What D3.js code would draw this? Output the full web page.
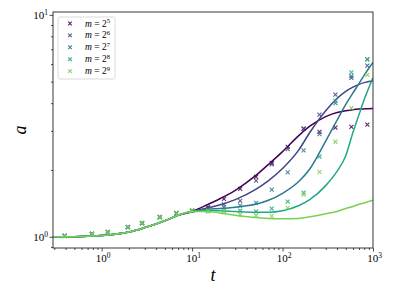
<!DOCTYPE html>
<html><head><meta charset="utf-8">
<script src="https://cdn.jsdelivr.net/npm/d3@7"></script>
<style>body{margin:0;background:#fff}</style>
</head><body><svg id="c" width="394" height="296"></svg>
<script>
// ---------- data ----------
const exponents = [5, 6, 7, 8, 9];
const colors = ["#440154", "#414487", "#2a788e", "#22a884", "#7ad151"];

const lineT = [0.29, 0.5, 1, 2, 3, 5, 7, 10, 15, 20, 30, 50, 70, 100, 150, 200, 300, 400, 500, 600, 700, 800, 1000];
const lineEarly = [1.0, 1.0, 1.012, 1.05, 1.10, 1.18, 1.25, 1.30];
const lineLate5 = [1.40, 1.48, 1.62, 1.88, 2.12, 2.42, 2.85, 3.15, 3.48, 3.63, 3.70, 3.74, 3.76, 3.77, 3.78];
const lineLate6 = [1.35, 1.39, 1.47, 1.63, 1.79, 2.03, 2.45, 2.95, 3.7, 4.2, 4.52, 4.72, 4.86, 4.95, 5.05];
const lineLate7 = [1.33, 1.34, 1.36, 1.40, 1.46, 1.57, 1.77, 2.02, 2.7, 3.35, 3.95, 4.45, 4.9, 5.35, 6.1];
const lineLate8 = [1.31, 1.31, 1.30, 1.29, 1.29, 1.31, 1.38, 1.47, 1.70, 1.97, 2.32, 2.95, 3.55, 4.15, 5.2];
const lineLate9 = [1.30, 1.28, 1.25, 1.22, 1.21, 1.205, 1.21, 1.23, 1.27, 1.30, 1.34, 1.37, 1.40, 1.42, 1.46];

const markerT = [0.39, 0.78, 1.17, 1.95, 2.8, 4.4, 6.7, 10, 15, 22.5, 34, 51, 76, 114, 171, 256, 384, 577, 866];
const markerEarly = [1.01, 1.03, 1.05, 1.106, 1.153, 1.227, 1.279, 1.31];
const markerLate5 = [1.365, 1.48, 1.645, 1.86, 2.15, 2.54, 3.07, 2.97, 3.1, 3.13, 3.2];
const markerLate6 = [1.35, 1.40, 1.45, 1.79, 2.12, 2.48, 3.07, 3.55, 4.37, 5.2, 5.9];
const markerLate7 = [1.33, 1.36, 1.38, 1.42, 1.63, 1.95, 2.45, 2.9, 4.0, 5.3, 6.3];
const markerLate8 = [1.30, 1.31, 1.31, 1.30, 1.34, 1.44, 1.58, 2.3, 4.1, 5.5, 6.3];
const markerLate9 = [1.31, 1.30, 1.26, 1.25, 1.24, 1.35, 1.55, 1.96, 2.68, 3.8, 5.36];

const xMajor = [1, 10, 100, 1000];
const xMajorExp = ["0", "1", "2", "3"];
const yMajor = [1, 10];
const yMajorExp = ["0", "1"];

const lineLate = [lineLate5, lineLate6, lineLate7, lineLate8, lineLate9];
const markerLate = [markerLate5, markerLate6, markerLate7, markerLate8, markerLate9];

// ---------- chart ----------
const svg = d3.select("#c");
const L = 53, R = 373, T = 12, B = 248;
const x = d3.scaleLog().domain([0.29, 1000]).range([L, R]);
const y = d3.scaleLog().domain([0.89, 10.3]).range([B, T]);
const serif = "'Liberation Serif', 'DejaVu Serif', serif";

svg.append("clipPath").attr("id", "clp").append("rect")
  .attr("x", L).attr("y", T).attr("width", R - L).attr("height", B - T);

const plot = svg.append("g").attr("clip-path", "url(#clp)");
const line = d3.line().x(d => x(d[0])).y(d => y(d[1])).curve(d3.curveMonotoneX);

exponents.forEach((e, i) => {
  const la = lineEarly.concat(lineLate[i]);
  const ld = lineT.map((t, j) => [t, la[j]]);
  plot.append("path").datum(ld).attr("d", line)
    .attr("fill", "none").attr("stroke", colors[i]).attr("stroke-width", 1.5);
  const ma = markerEarly.concat(markerLate[i]);
  const md = markerT.map((t, j) => [t, ma[j]]);
  plot.selectAll(null).data(md).enter().append("path")
    .attr("d", d => {
      const cx = x(d[0]), cy = y(d[1]), s = 2;
      return `M${cx - s},${cy - s}L${cx + s},${cy + s}M${cx - s},${cy + s}L${cx + s},${cy - s}`;
    })
    .attr("stroke", colors[i]).attr("stroke-width", 1.1).attr("fill", "none").attr("opacity", 0.85);
});

// minor ticks
const xMinor = [];
for (let d = 0.1; d < 1000; d *= 10) for (let k = 2; k <= 9; k++) { const v = d * k; if (v >= 0.29 && v <= 1000) xMinor.push(v); }
const yMinor = [];
for (let d = 0.1; d < 10; d *= 10) for (let k = 2; k <= 9; k++) { const v = d * k; if (v >= 0.89 && v <= 10.3) yMinor.push(v); }

const gx = svg.append("g").attr("transform", `translate(0,${B})`);
gx.call(d3.axisBottom(x).tickValues(xMinor).tickSize(2).tickFormat(() => ""));
gx.call(g => g.select(".domain").remove());
const gx2 = svg.append("g").attr("transform", `translate(0,${B})`);
gx2.call(d3.axisBottom(x).tickValues(xMajor).tickSize(3.5).tickFormat(() => ""));
gx2.call(g => g.select(".domain").remove());
gx2.selectAll(".tick").each(function (d, i) {
  const t = d3.select(this).append("text").attr("x", 1).attr("y", 14).attr("fill", "#000")
    .attr("font-family", serif).attr("font-size", 11).attr("text-anchor", "middle");
  t.append("tspan").text("10");
  t.append("tspan").attr("dy", -4.5).attr("font-size", 7.5).text(xMajorExp[i]);
});

const gy = svg.append("g").attr("transform", `translate(${L},0)`);
gy.call(d3.axisLeft(y).tickValues(yMinor).tickSize(2).tickFormat(() => ""));
gy.call(g => g.select(".domain").remove());
const gy2 = svg.append("g").attr("transform", `translate(${L},0)`);
gy2.call(d3.axisLeft(y).tickValues(yMajor).tickSize(3.5).tickFormat(() => ""));
gy2.call(g => g.select(".domain").remove());
gy2.selectAll(".tick").each(function (d, i) {
  const t = d3.select(this).append("text").attr("x", -5).attr("y", 4).attr("fill", "#000")
    .attr("font-family", serif).attr("font-size", 11).attr("text-anchor", "end");
  t.append("tspan").text("10");
  t.append("tspan").attr("dy", -4.5).attr("font-size", 7.5).text(yMajorExp[i]);
});
svg.selectAll(".tick line").attr("stroke", "#222").attr("stroke-width", 0.8);

// frame
svg.append("rect").attr("x", L).attr("y", T).attr("width", R - L).attr("height", B - T)
  .attr("fill", "none").attr("stroke", "#222").attr("stroke-width", 0.9);

// axis labels
svg.append("text").attr("x", (L + R) / 2).attr("y", 281).attr("text-anchor", "middle")
  .attr("font-family", serif).attr("font-style", "italic").attr("font-size", 18).text("t");
svg.append("text").attr("transform", `translate(26,${(T + B) / 2}) rotate(-90)`).attr("text-anchor", "middle")
  .attr("font-family", serif).attr("font-style", "italic").attr("font-size", 18).text("a");

// legend
const lg = svg.append("g");
lg.append("rect").attr("x", 58).attr("y", 17).attr("width", 57).attr("height", 62).attr("rx", 2)
  .attr("fill", "#fff").attr("fill-opacity", 0.8).attr("stroke", "#d0d0d0").attr("stroke-width", 0.8);
exponents.forEach((e, i) => {
  const cy = 23.5 + i * 11.9, cx = 70, s = 1.8;
  lg.append("path").attr("d", `M${cx - s},${cy - s}L${cx + s},${cy + s}M${cx - s},${cy + s}L${cx + s},${cy - s}`)
    .attr("stroke", colors[i]).attr("stroke-width", 1.2).attr("opacity", 0.85);
  const t = lg.append("text").attr("x", 85).attr("y", cy + 3).attr("font-family", serif).attr("font-size", 9.5);
  t.append("tspan").attr("font-style", "italic").text("m");
  t.append("tspan").text(" = 2");
  t.append("tspan").attr("dy", -3.5).attr("font-size", 6.5).text(String(e));
});
</script></body></html>
